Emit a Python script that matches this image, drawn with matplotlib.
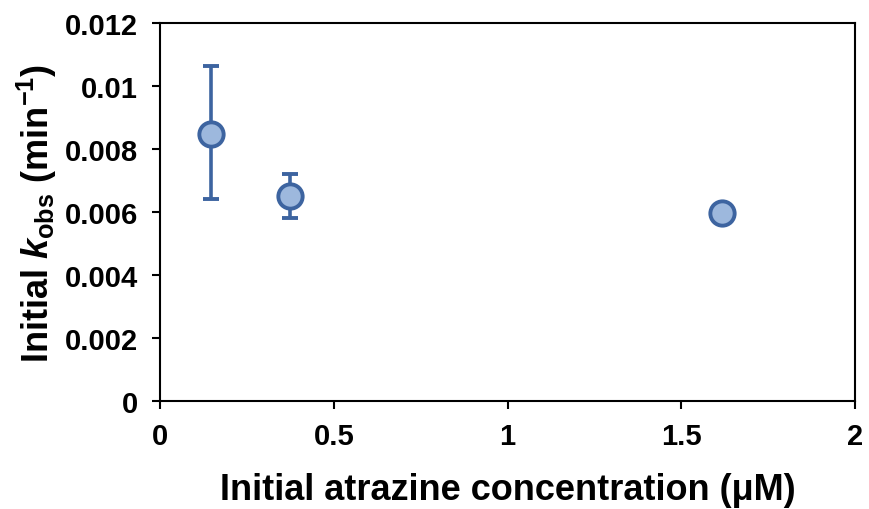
import matplotlib.pyplot as plt
import numpy as np

# values
conc = [0.147, 0.373, 1.616]          # initial atrazine concentration (uM)
kobs = [0.00850, 0.00650, 0.00598]    # initial k_obs (1/min)
err_lo = [0.00209, 0.00069, 0.0]
err_hi = [0.00214, 0.00070, 0.0]

x_ticks = [0, 0.5, 1, 1.5, 2]
x_labels = ['0', '0.5', '1', '1.5', '2']
y_ticks = [0, 0.002, 0.004, 0.006, 0.008, 0.01, 0.012]
y_labels = ['0', '0.002', '0.004', '0.006', '0.008', '0.01', '0.012']

plt.rcParams['font.family'] = ['Liberation Sans', 'DejaVu Sans']
plt.rcParams['font.weight'] = 'bold'
plt.rcParams['mathtext.fontset'] = 'custom'
plt.rcParams['mathtext.it'] = 'Liberation Sans:italic:bold'
plt.rcParams['mathtext.rm'] = 'Liberation Sans:bold'

edge = '#3d64a0'
face = '#9db8dd'

fig, ax = plt.subplots(figsize=(8.7, 5.1), dpi=100)
fig.subplots_adjust(left=0.184, right=0.983, top=0.952, bottom=0.212)

ax.errorbar(conc, kobs, yerr=[err_lo, err_hi], fmt='o', color=edge,
            ecolor=edge, elinewidth=2.6, capsize=5.5, capthick=2.6,
            markersize=17.5, markerfacecolor=face, markeredgecolor=edge,
            markeredgewidth=2.8, zorder=3)

ax.set_xlim(0, 2)
ax.set_ylim(0, 0.012)
ax.set_xticks(x_ticks)
ax.set_xticklabels(x_labels)
ax.set_yticks(y_ticks)
ax.set_yticklabels(y_labels)
ax.tick_params(axis='both', direction='out', length=6, width=1.5,
               labelsize=21)
ax.tick_params(axis='x', pad=9)
ax.tick_params(axis='y', pad=10)
for s in ax.spines.values():
    s.set_linewidth(1.5)

ax.set_xlabel('Initial atrazine concentration (\u03bcM)', fontsize=26,
              fontweight='bold', labelpad=16)
ax.set_ylabel(r'Initial $\mathit{k}_{\mathrm{obs}}$ (min$^{\mathrm{-1}}$)',
              fontsize=26, fontweight='bold', labelpad=4)

fig.savefig('out.png', dpi=100)
